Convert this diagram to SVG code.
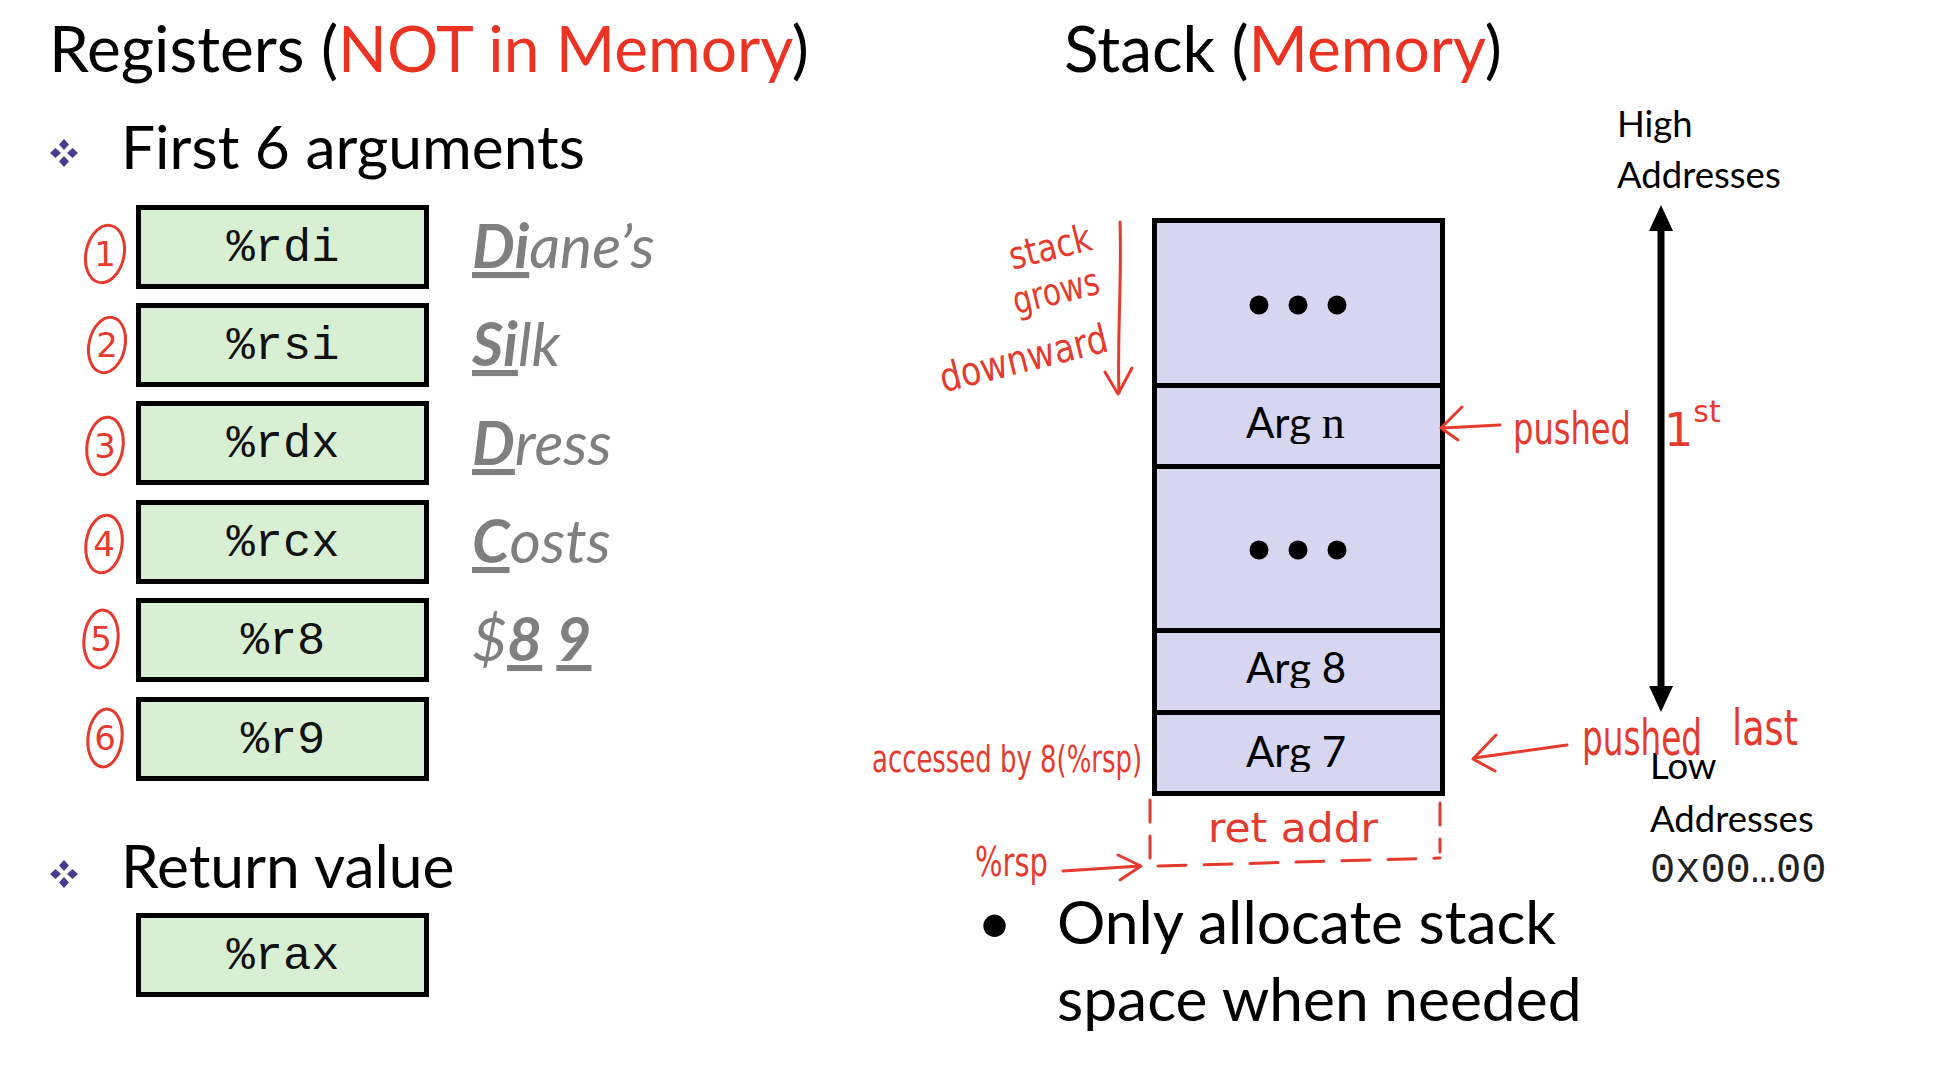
<svg xmlns="http://www.w3.org/2000/svg" width="1934" height="1076" viewBox="0 0 1934 1076">
  <defs>
    <style>
      .sans { font-family: Lato, "Open Sans", "Liberation Sans", sans-serif; fill: #000; }
      .title { font-size: 64px; }
      .body { font-size: 60.5px; }
      .small { font-size: 36.5px; }
      .hot { fill: #ec3323; }
      .reg rect { fill: #d9efd3; stroke: #000; stroke-width: 5; }
      .regtxt { font-family: "Liberation Mono", "Courier New", monospace; font-size: 47px; text-anchor: middle; fill: #111; }
      .mnem { font-family: Lato, "Open Sans", "Liberation Sans", sans-serif; font-size: 60.5px; font-style: italic; fill: #7f7f7f; }
      .mnem .k { font-weight: bold; text-decoration: underline; }
      .cell rect { fill: #d6d6f1; stroke: #000; stroke-width: 5; }
      .celltxt { font-family: Lato, "Open Sans", "Liberation Sans", sans-serif; font-size: 42px; fill: #000; }
      .serif { font-family: "Liberation Serif", serif; font-size: 46px; }
      .hand { font-family: "DejaVu Sans", "Liberation Sans", sans-serif; fill: #e53b2f; }
      .ink { fill: none; stroke: #e53b2f; stroke-width: 3; stroke-linecap: round; stroke-linejoin: round; }
      .dash { stroke-dasharray: 22 14; }
      .circ { fill: none; stroke: #e53b2f; stroke-width: 3; }
      .num { font-family: "DejaVu Sans", "Liberation Sans", sans-serif; font-size: 34px; fill: #e53b2f; text-anchor: middle; }
      .spell { fill: url(#squiggle); }
    </style>
    <!-- red spell-check wave -->
    <pattern id="squiggle" x="0" y="0" width="5" height="4" patternUnits="userSpaceOnUse">
      <path d="M0 3 L1.25 1 L2.5 3 L3.75 1 L5 3" fill="none" stroke="#e8686a" stroke-width="1"/>
    </pattern>
    <!-- four-diamond bullet -->
    <g id="bullet" fill="#4b3b8f">
      <path d="M0 -14 L5 -8.5 L0 -3 L-5 -8.5 Z"/>
      <path d="M0 14 L5 8.5 L0 3 L-5 8.5 Z"/>
      <path d="M-14 0 L-8.5 5 L-3 0 L-8.5 -5 Z"/>
      <path d="M14 0 L8.5 5 L3 0 L8.5 -5 Z"/>
    </g>
  </defs>

  <rect width="1934" height="1076" fill="#fff"/>

  <!-- headings -->
  <text class="sans title" x="49" y="72">Registers (<tspan class="hot">NOT in Memory</tspan>)</text>
  <text class="sans title" x="1064" y="72">Stack (<tspan class="hot">Memory</tspan>)</text>

  <use href="#bullet" x="64" y="153"/>
  <text class="sans body" x="121" y="169">First 6 arguments</text>

  <use href="#bullet" x="64" y="874"/>
  <text class="sans body" x="121" y="888">Return value</text>

  <!-- argument registers -->
  <g id="reg-rdi" class="reg">
    <rect x="138.5" y="207.5" width="288" height="79"/>
    <text class="regtxt" x="283" y="261">%rdi</text>
    <rect class="spell" x="254" y="272" width="89" height="4" style="stroke:none"/>
  </g>
  <g id="reg-rsi" class="reg">
    <rect x="138.5" y="305.5" width="288" height="79"/>
    <text class="regtxt" x="283" y="359">%rsi</text>
    <rect class="spell" x="254" y="368" width="89" height="4" style="stroke:none"/>
  </g>
  <g id="reg-rdx" class="reg">
    <rect x="138.5" y="403.5" width="288" height="79"/>
    <text class="regtxt" x="283" y="457">%rdx</text>
    <rect class="spell" x="254" y="468" width="89" height="4" style="stroke:none"/>
  </g>
  <g id="reg-rcx" class="reg">
    <rect x="138.5" y="502.5" width="288" height="79"/>
    <text class="regtxt" x="283" y="556">%rcx</text>
    <rect class="spell" x="254" y="568" width="89" height="4" style="stroke:none"/>
  </g>
  <g id="reg-r8" class="reg">
    <rect x="138.5" y="600.5" width="288" height="79"/>
    <text class="regtxt" x="283" y="654">%r8</text>
  </g>
  <g id="reg-r9" class="reg">
    <rect x="138.5" y="699.5" width="288" height="79"/>
    <text class="regtxt" x="283" y="753">%r9</text>
  </g>
  <g id="reg-rax" class="reg">
    <rect x="138.5" y="915.5" width="288" height="79"/>
    <text class="regtxt" x="283" y="969">%rax</text>
    <rect class="spell" x="254" y="980" width="89" height="4" style="stroke:none"/>
  </g>

  <!-- mnemonic -->
  <g id="mnemonic" class="mnem">
    <text x="472" y="268"><tspan class="k">Di</tspan>ane’s</text>
    <text x="472" y="366"><tspan class="k">Si</tspan>lk</text>
    <text x="472" y="465"><tspan class="k">D</tspan>ress</text>
    <text x="472" y="563"><tspan class="k">C</tspan>osts</text>
    <text x="472" y="661">$<tspan class="k">8</tspan> <tspan class="k">9</tspan></text>
  </g>

  <!-- circled argument numbers -->
  <g id="arg-numbers">
    <ellipse class="circ" cx="105" cy="254" rx="19" ry="29" transform="rotate(12 105 254)"/>
    <text class="num" x="105" y="266">1</text>
    <ellipse class="circ" cx="107" cy="345" rx="18" ry="28" transform="rotate(12 107 345)"/>
    <text class="num" x="107" y="357">2</text>
    <ellipse class="circ" cx="105" cy="446" rx="18" ry="29" transform="rotate(8 105 446)"/>
    <text class="num" x="105" y="458">3</text>
    <ellipse class="circ" cx="104" cy="544" rx="18" ry="29" transform="rotate(8 104 544)"/>
    <text class="num" x="104" y="556">4</text>
    <ellipse class="circ" cx="101" cy="639" rx="17" ry="29" transform="rotate(6 101 639)"/>
    <text class="num" x="101" y="651">5</text>
    <ellipse class="circ" cx="105" cy="738" rx="17" ry="29" transform="rotate(6 105 738)"/>
    <text class="num" x="105" y="750">6</text>
  </g>

  <!-- stack frame cells -->
  <g id="cell-top" class="cell">
    <rect x="1154.5" y="220.5" width="288" height="165"/>
    <circle cx="1259" cy="305" r="9.5"/>
    <circle cx="1298" cy="305" r="9.5"/>
    <circle cx="1337" cy="305" r="9.5"/>
  </g>
  <g id="cell-argn" class="cell">
    <rect x="1154.5" y="385.5" width="288" height="81"/>
    <text class="celltxt" x="1246" y="438">Arg <tspan class="serif">n</tspan></text>
    <rect class="spell" x="1244" y="444" width="68" height="4" style="stroke:none"/>
  </g>
  <g id="cell-mid" class="cell">
    <rect x="1154.5" y="466.5" width="288" height="164"/>
    <circle cx="1259" cy="550" r="9.5"/>
    <circle cx="1298" cy="550" r="9.5"/>
    <circle cx="1337" cy="550" r="9.5"/>
  </g>
  <g id="cell-arg8" class="cell">
    <rect x="1154.5" y="630.5" width="288" height="82"/>
    <text class="celltxt" x="1246" y="683">Arg 8</text>
    <rect class="spell" x="1244" y="688" width="68" height="4" style="stroke:none"/>
  </g>
  <g id="cell-arg7" class="cell">
    <rect x="1154.5" y="712.5" width="288" height="81"/>
    <text class="celltxt" x="1246" y="767">Arg 7</text>
    <rect class="spell" x="1244" y="772" width="68" height="4" style="stroke:none"/>
  </g>

  <!-- return address slot -->
  <g id="ret-addr">
    <path class="ink dash" d="M1150 800 L1150 870"/>
    <path class="ink dash" d="M1440 803 L1440 852"/>
    <path class="ink" style="stroke-dasharray:28 18" d="M1158 866 L1440 858"/>
    <text class="hand" x="1208" y="842" font-size="40" textLength="170" lengthAdjust="spacingAndGlyphs">ret addr</text>
  </g>

  <!-- address range -->
  <g id="addresses">
    <text class="sans small" x="1617" y="137">High</text>
    <text class="sans small" x="1617" y="188">Addresses</text>
    <text class="sans small" x="1650" y="779">Low</text>
    <text class="sans small" x="1650" y="832">Addresses</text>
    <text x="1650" y="882" font-family="Liberation Mono, Courier New, monospace" font-size="42" fill="#222">0x00…00</text>
  </g>

  <!-- connectors -->
  <g id="connectors">
    <path d="M1661 226 L1661 690" stroke="#000" stroke-width="7" fill="none"/>
    <path d="M1661 205 L1649 231 L1673 231 Z" fill="#000"/>
    <path d="M1661 712 L1649 686 L1673 686 Z" fill="#000"/>

    <path class="ink" d="M1120 222 C1122 280 1117 340 1119 393"/>
    <path class="ink" d="M1105 372 L1118 394 L1132 368"/>

    <path class="ink" d="M1500 425 L1442 428"/>
    <path class="ink" d="M1462 407 L1441 428 L1458 440"/>

    <path class="ink" d="M1567 745 L1474 758"/>
    <path class="ink" d="M1496 735 L1473 759 L1495 771"/>

    <path class="ink" d="M1063 871 L1140 866"/>
    <path class="ink" d="M1118 855 L1141 866 L1120 880"/>
  </g>

  <!-- handwritten notes -->
  <g id="notes">
    <text class="hand" font-size="38" textLength="84" lengthAdjust="spacingAndGlyphs" transform="rotate(-14 1050 247)" x="1008" y="260">stack</text>
    <text class="hand" font-size="38" textLength="88" lengthAdjust="spacingAndGlyphs" transform="rotate(-14 1057 296)" x="1013" y="304">grows</text>
    <text class="hand" font-size="40" textLength="172" lengthAdjust="spacingAndGlyphs" transform="rotate(-14 1024 360)" x="938" y="372">downward</text>
    <text class="hand" x="1513" y="444" font-size="44" textLength="118" lengthAdjust="spacingAndGlyphs">pushed</text>
    <text class="hand" x="1664" y="446" font-size="46">1<tspan font-size="30" dy="-24">st</tspan></text>
    <text class="hand" x="1582" y="755" font-size="50" textLength="120" lengthAdjust="spacingAndGlyphs">pushed</text>
    <text class="hand" x="1732" y="745" font-size="50" textLength="66" lengthAdjust="spacingAndGlyphs">last</text>
    <text class="hand" x="872" y="772" font-size="38" textLength="270" lengthAdjust="spacingAndGlyphs">accessed by 8(%rsp)</text>
    <text class="hand" x="975" y="876" font-size="40" textLength="73" lengthAdjust="spacingAndGlyphs">%rsp</text>
  </g>

  <!-- note below the stack -->
  <text class="sans body" x="977" y="944">•</text>
  <text class="sans body" x="1057" y="944">Only allocate stack</text>
  <text class="sans body" x="1057" y="1021">space when needed</text>
</svg>
